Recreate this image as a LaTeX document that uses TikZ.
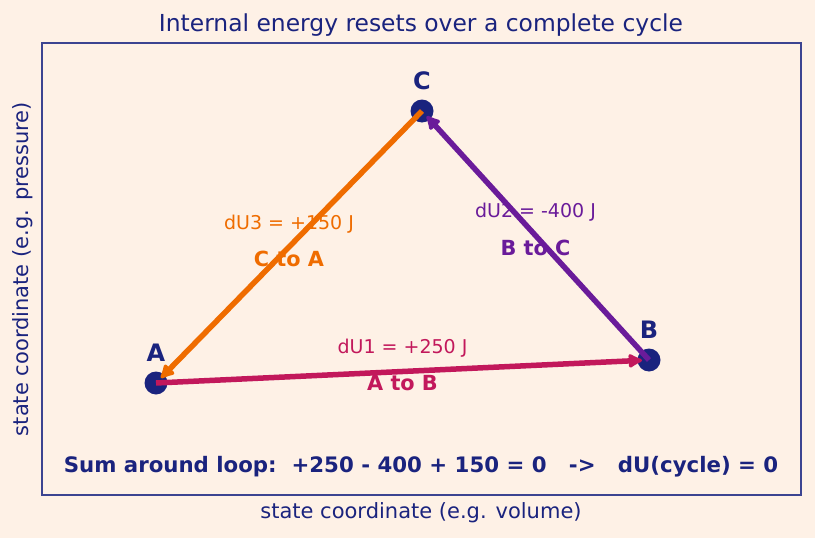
\documentclass[tikz,border=0pt]{standalone}
\usepackage{fontspec}
\setmainfont{DejaVu Sans}
\usetikzlibrary{arrows.meta}
\definecolor{bgpeach}{HTML}{FEF1E6}
\definecolor{navy}{HTML}{1A237E}
\definecolor{crimson}{HTML}{C2185B}
\definecolor{grape}{HTML}{6A1B9A}
\definecolor{tangerine}{HTML}{EF6C00}
\tikzset{
  statept/.style={circle,fill=navy,inner sep=0pt,minimum size=23pt},
  ptlabel/.style={text=navy,font=\fontsize{24}{28}\selectfont\bfseries},
  stroke/.style={line width=5.5pt,-{Latex[length=17pt,width=17pt,round]},shorten >=7pt},
  dulabel/.style={font=\fontsize{19}{23}\selectfont,yshift=23pt},
  legname/.style={font=\fontsize{20.8}{25}\selectfont\bfseries,yshift=-12pt}
}
\begin{document}
\begin{tikzpicture}[x=1pt,y=-1pt]
	\fill[bgpeach] (0,0) rectangle (815,538);
	\useasboundingbox (0,0) rectangle (815,538);
	\draw[navy!85,line width=1.2pt] (42,43) rectangle (801,495);
	% titles
	\node[text=navy,font=\fontsize{23.4}{27}\selectfont] (title) at (421,25) {Internal energy resets over a complete cycle};
	\node[text=navy,font=\fontsize{21}{25}\selectfont] (xlab) at (421,513) {state coordinate (e.g. volume)};
	\node[text=navy,font=\fontsize{21}{25}\selectfont,rotate=90] (ylab) at (23,269) {state coordinate (e.g. pressure)};
	% states
	\node[statept] (A) at (156,383) {};
	\node[statept] (B) at (649,360) {};
	\node[statept] (C) at (422,111) {};
	\node[ptlabel] (Alab) at (156,353) {A};
	\node[ptlabel] (Blab) at (649,330) {B};
	\node[ptlabel] (Clab) at (422,81) {C};
	% processes
	\draw[stroke,crimson] (A.center) -- (B.center)
		node[midway,dulabel,text=crimson] (du1) {dU1 = +250 J}
		node[midway,legname,text=crimson] (ab) {A to B};
	\draw[stroke,grape] (B.center) -- (C.center)
		node[midway,dulabel,text=grape] (du2) {dU2 = -400 J}
		node[midway,legname,text=grape] (bc) {B to C};
	\draw[stroke,tangerine] (C.center) -- (A.center)
		node[midway,dulabel,text=tangerine] (du3) {dU3 = +150 J}
		node[midway,legname,text=tangerine] (ca) {C to A};
	% sum
	\node[text=navy,font=\fontsize{21.3}{25}\selectfont\bfseries] (sum) at (421,467)
		{Sum around loop:\ \ +250 - 400 + 150 = 0\ \ \ ->\ \ \ dU(cycle) = 0};
\end{tikzpicture}
\end{document}
